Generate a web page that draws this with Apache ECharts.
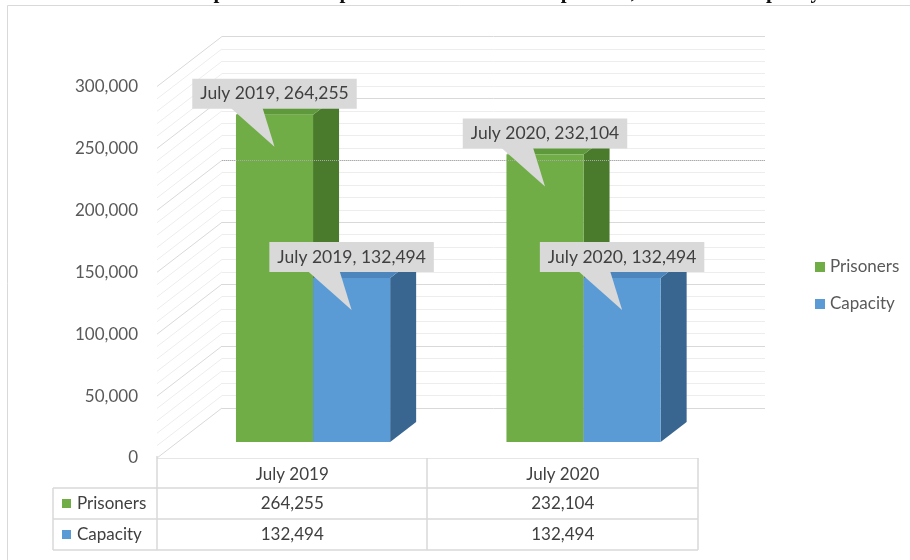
<!DOCTYPE html>
<html>
<head>
<meta charset="utf-8">
<script src="https://cdn.jsdelivr.net/npm/echarts@6/dist/echarts.min.js"></script>
<style>
  html, body { margin: 0; padding: 0; background: #fff; }
  #main { width: 910px; height: 560px; }
</style>
</head>
<body>
<div id="main"></div>
<script>
// data
var categories = ['July 2019', 'July 2020'];
var seriesNames = ['Prisoners', 'Capacity'];
var prisoners = [264255, 232104];
var capacity = [132494, 132494];
var yTicks = [0, 50000, 100000, 150000, 200000, 250000, 300000];

var FONT = 'Lato, "Open Sans", sans-serif';
var DX = 65, DY = -50;           // depth of the floor (front -> back wall)
var BAR_OFF = 0.32, BAR_DEPTH = 0.4;
var green = ['#70AD47', '#4A7A2C', '#5E9A3B'];
var blue = ['#5B9BD5', '#386690', '#4C86BC'];

function fmt(v) {
    return v.toString().replace(/\B(?=(\d{3})+(?!\d))/g, ',');
}

function barGeom(api, cat, v, s) {
    var base = api.coord([cat, 0]);
    var top = api.coord([cat, v]);
    var w = api.size([1, 0])[0] * 0.285;
    var x0 = base[0] + DX * BAR_OFF + (s ? 0 : -w);
    return { x0: x0, w: w, yb: base[1] + DY * BAR_OFF, yt: top[1] + DY * BAR_OFF };
}

function renderBar(colors, s) {
    return function (params, api) {
        var g = barGeom(api, api.value(0), api.value(1), s);
        var dx = DX * BAR_DEPTH, dy = DY * BAR_DEPTH;
        var x0 = g.x0, w = g.w, yt = g.yt, yb = g.yb;
        return {
            type: 'group',
            children: [
                { type: 'polygon', shape: { points: [[x0 + w, yt], [x0 + w + dx, yt + dy], [x0 + w + dx, yb + dy], [x0 + w, yb]] }, style: { fill: colors[1] } },
                { type: 'polygon', shape: { points: [[x0, yt], [x0 + w, yt], [x0 + w + dx, yt + dy], [x0 + dx, yt + dy]] }, style: { fill: colors[2] } },
                { type: 'rect', shape: { x: x0, y: yt, width: w, height: yb - yt }, style: { fill: colors[0] } }
            ]
        };
    };
}

// callout boxes like excel data labels
var calloutData = [];
for (var i = 0; i < categories.length; i++) {
    calloutData.push([i, prisoners[i], 0]);
    calloutData.push([i, capacity[i], 1]);
}

function renderCallout(params, api) {
    var cat = api.value(0), v = api.value(1), s = api.value(2);
    var g = barGeom(api, cat, v, s);
    var cx = g.x0 + g.w / 2;
    var by = g.yt - 6;
    return {
        type: 'group',
        children: [
            { type: 'polygon', shape: { points: [[cx - 44, by - 1], [cx - 12, by - 1], [cx, g.yt + 32]] }, style: { fill: '#D9D9D9' } },
            {
                type: 'text', x: cx, y: by - 15,
                style: {
                    text: categories[cat] + ', ' + fmt(v),
                    font: '17.5px ' + FONT, fill: '#404040',
                    align: 'center', verticalAlign: 'middle',
                    backgroundColor: '#D9D9D9', padding: [6, 8], lineHeight: 18
                }
            }
        ]
    };
}

// side wall gridlines (diagonals), drawn off the back wall axis
var wallTicks = [];
for (var t = 0; t <= 300000; t += 10000) wallTicks.push(t);

function renderWall(params, api) {
    var v = api.value(0);
    var p = api.coord([0, v]);
    var x = params.coordSys.x;
    var major = v % 50000 === 0;
    return {
        type: 'line',
        shape: { x1: x, y1: p[1], x2: x - DX, y2: p[1] - DY },
        style: { stroke: major ? '#D9D9D9' : '#EDEDED', lineWidth: 1 }
    };
}

// data table under the chart
function renderTable(params, api) {
    var cat = api.value(0);
    var x = api.coord([cat, 0])[0];
    var st = function (txt, y) {
        return { type: 'text', x: x, y: y, style: { text: txt, font: '17px ' + FONT, fill: '#404040', align: 'center', verticalAlign: 'middle' } };
    };
    return {
        type: 'group',
        children: [
            st(categories[cat], 475),
            st(fmt(prisoners[cat]), 504),
            st(fmt(capacity[cat]), 535)
        ]
    };
}

var lineStyle = { stroke: '#D9D9D9', lineWidth: 1.5 };
function hline(x1, x2, y) { return { type: 'line', shape: { x1: x1, y1: y, x2: x2, y2: y }, style: lineStyle, z: 1 }; }
function vline(x, y1, y2) { return { type: 'line', shape: { x1: x, y1: y1, x2: x, y2: y2 }, style: lineStyle, z: 1 }; }

var chart = echarts.init(document.getElementById('main'));
chart.setOption({
    animation: false,
    color: [green[0], blue[0]],
    textStyle: { fontFamily: FONT },
    legend: {
        data: seriesNames,
        orient: 'vertical',
        left: 810, top: 252,
        icon: 'rect', itemWidth: 10, itemHeight: 10, itemGap: 17,
        textStyle: { fontSize: 17, color: '#595959', lineHeight: 20 }
    },
    grid: [
        { left: 157, top: 86.5, width: 541, height: 371.5, outerBoundsMode: 'none' },
        { left: 222, top: 36.5, width: 543, height: 371.5, outerBoundsMode: 'none' }
    ],
    xAxis: [
        {
            type: 'category', gridIndex: 0, data: categories,
            axisLine: { show: true, lineStyle: { color: '#E6E6E6' } },
            axisTick: { show: false }, axisLabel: { show: false }
        },
        { type: 'category', gridIndex: 1, data: categories, show: false }
    ],
    yAxis: [
        {
            type: 'value', gridIndex: 0, min: 0, max: 300000, interval: 50000,
            axisLine: { show: false }, axisTick: { show: false }, splitLine: { show: false },
            axisLabel: { fontSize: 17, color: '#595959', margin: 19, formatter: fmt }
        },
        {
            type: 'value', gridIndex: 1, min: 0, max: 300000, interval: 50000,
            axisLine: { show: false }, axisTick: { show: false }, axisLabel: { show: false },
            splitLine: { show: true, lineStyle: { color: '#D9D9D9', width: 1 } },
            minorTick: { show: false, splitNumber: 5 },
            minorSplitLine: { show: true, lineStyle: { color: '#EDEDED', width: 1 } }
        }
    ],
    series: [
        {
            name: 'wall', type: 'custom', xAxisIndex: 1, yAxisIndex: 1, silent: true, z: 1,
            data: wallTicks.map(function (v) { return [v]; }),
            encode: { y: 0 },
            renderItem: renderWall,
            markLine: {
                silent: true, symbol: 'none', label: { show: false },
                lineStyle: { type: 'dotted', color: '#ABABAB', width: 1 },
                data: [{ yAxis: 200000 }]
            }
        },
        {
            name: seriesNames[0], type: 'custom', z: 3,
            itemStyle: { color: green[0] },
            data: prisoners.map(function (v, i) { return [i, v]; }),
            encode: { x: 0, y: 1 },
            renderItem: renderBar(green, 0)
        },
        {
            name: seriesNames[1], type: 'custom', z: 4,
            itemStyle: { color: blue[0] },
            data: capacity.map(function (v, i) { return [i, v]; }),
            encode: { x: 0, y: 1 },
            renderItem: renderBar(blue, 1)
        },
        {
            name: 'labels', type: 'custom', z: 6, silent: true,
            data: calloutData,
            encode: { x: 0, y: 1 },
            renderItem: renderCallout
        },
        {
            name: 'table', type: 'custom', z: 5, silent: true,
            data: categories.map(function (c, i) { return [i, 0]; }),
            encode: { x: 0, y: 1 },
            renderItem: renderTable
        }
    ],
    graphic: [
        { type: 'rect', shape: { x: 7.5, y: 5.5, width: 1000, height: 1000 }, style: { fill: 'none', stroke: '#D9D9D9', lineWidth: 1 }, z: 0 },
        {
            type: 'text', x: 93, y: 3,
            style: { text: 'Table 1: Comparison Of Expansion Content And Expansion, The Death Capacity', font: 'bold 21px "Liberation Serif", serif', fill: '#111', verticalAlign: 'bottom' }
        },
        hline(53, 698, 488), hline(53, 698, 519), hline(53, 698, 550),
        vline(53, 488, 550), vline(157, 456, 550), vline(427, 458, 550), vline(698, 458, 550),
        { type: 'rect', shape: { x: 62, y: 499, width: 9, height: 9 }, style: { fill: green[0] } },
        { type: 'text', x: 77, y: 504, style: { text: seriesNames[0], font: '17px ' + FONT, fill: '#404040', verticalAlign: 'middle' } },
        { type: 'rect', shape: { x: 62, y: 530, width: 9, height: 9 }, style: { fill: blue[0] } },
        { type: 'text', x: 77, y: 535, style: { text: seriesNames[1], font: '17px ' + FONT, fill: '#404040', verticalAlign: 'middle' } }
    ]
});
</script>
</body>
</html>
